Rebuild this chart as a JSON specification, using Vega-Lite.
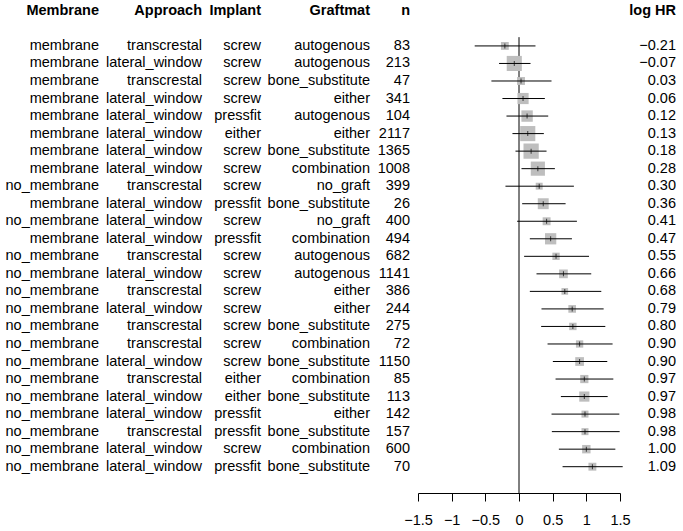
{
  "$schema": "https://vega.github.io/schema/vega-lite/v6.json",
  "padding": 0,
  "spacing": 0,
  "bounds": "flush",
  "background": "white",
  "config": {
    "view": {"stroke": null},
    "font": "Liberation Sans",
    "text": {"fontSize": 14.5, "color": "black", "baseline": "middle"},
    "axis": {"grid": false, "domainColor": "black", "tickColor": "black", "labelColor": "black", "labelFontSize": 14.5, "labelFont": "Liberation Sans", "domainWidth": 1, "tickWidth": 1, "tickSize": 8, "labelPadding": 12, "labelFlush": false, "labelOverlap": false, "labelBound": false}
  },
  "datasets": {
    "rows": [
      {"row": 0, "Membrane": "membrane", "Approach": "transcrestal", "Implant": "screw", "Graftmat": "autogenous", "n": 83, "est": -0.21, "lo": -0.658, "hi": 0.245, "se": 0.230},
      {"row": 1, "Membrane": "membrane", "Approach": "lateral_window", "Implant": "screw", "Graftmat": "autogenous", "n": 213, "est": -0.07, "lo": -0.296, "hi": 0.171, "se": 0.119},
      {"row": 2, "Membrane": "membrane", "Approach": "transcrestal", "Implant": "screw", "Graftmat": "bone_substitute", "n": 47, "est": 0.03, "lo": -0.41, "hi": 0.483, "se": 0.228},
      {"row": 3, "Membrane": "membrane", "Approach": "lateral_window", "Implant": "screw", "Graftmat": "either", "n": 341, "est": 0.06, "lo": -0.246, "hi": 0.384, "se": 0.161},
      {"row": 4, "Membrane": "membrane", "Approach": "lateral_window", "Implant": "pressfit", "Graftmat": "autogenous", "n": 104, "est": 0.12, "lo": -0.186, "hi": 0.434, "se": 0.158},
      {"row": 5, "Membrane": "membrane", "Approach": "lateral_window", "Implant": "either", "Graftmat": "either", "n": 2117, "est": 0.13, "lo": -0.097, "hi": 0.369, "se": 0.119},
      {"row": 6, "Membrane": "membrane", "Approach": "lateral_window", "Implant": "screw", "Graftmat": "bone_substitute", "n": 1365, "est": 0.18, "lo": -0.052, "hi": 0.409, "se": 0.118},
      {"row": 7, "Membrane": "membrane", "Approach": "lateral_window", "Implant": "screw", "Graftmat": "combination", "n": 1008, "est": 0.28, "lo": 0.037, "hi": 0.533, "se": 0.127},
      {"row": 8, "Membrane": "no_membrane", "Approach": "transcrestal", "Implant": "screw", "Graftmat": "no_graft", "n": 399, "est": 0.30, "lo": -0.201, "hi": 0.815, "se": 0.259},
      {"row": 9, "Membrane": "membrane", "Approach": "lateral_window", "Implant": "pressfit", "Graftmat": "bone_substitute", "n": 26, "est": 0.36, "lo": 0.047, "hi": 0.692, "se": 0.165},
      {"row": 10, "Membrane": "no_membrane", "Approach": "lateral_window", "Implant": "screw", "Graftmat": "no_graft", "n": 400, "est": 0.41, "lo": -0.028, "hi": 0.86, "se": 0.227},
      {"row": 11, "Membrane": "membrane", "Approach": "lateral_window", "Implant": "pressfit", "Graftmat": "combination", "n": 494, "est": 0.47, "lo": 0.161, "hi": 0.786, "se": 0.160},
      {"row": 12, "Membrane": "no_membrane", "Approach": "transcrestal", "Implant": "screw", "Graftmat": "autogenous", "n": 682, "est": 0.55, "lo": 0.076, "hi": 1.04, "se": 0.246},
      {"row": 13, "Membrane": "no_membrane", "Approach": "lateral_window", "Implant": "screw", "Graftmat": "autogenous", "n": 1141, "est": 0.66, "lo": 0.26, "hi": 1.073, "se": 0.207},
      {"row": 14, "Membrane": "no_membrane", "Approach": "transcrestal", "Implant": "screw", "Graftmat": "either", "n": 386, "est": 0.68, "lo": 0.161, "hi": 1.222, "se": 0.271},
      {"row": 15, "Membrane": "no_membrane", "Approach": "lateral_window", "Implant": "screw", "Graftmat": "either", "n": 244, "est": 0.79, "lo": 0.334, "hi": 1.257, "se": 0.235},
      {"row": 16, "Membrane": "no_membrane", "Approach": "transcrestal", "Implant": "screw", "Graftmat": "bone_substitute", "n": 275, "est": 0.80, "lo": 0.329, "hi": 1.282, "se": 0.243},
      {"row": 17, "Membrane": "no_membrane", "Approach": "transcrestal", "Implant": "screw", "Graftmat": "combination", "n": 72, "est": 0.90, "lo": 0.424, "hi": 1.39, "se": 0.246},
      {"row": 18, "Membrane": "no_membrane", "Approach": "lateral_window", "Implant": "screw", "Graftmat": "bone_substitute", "n": 1150, "est": 0.90, "lo": 0.503, "hi": 1.311, "se": 0.206},
      {"row": 19, "Membrane": "no_membrane", "Approach": "transcrestal", "Implant": "either", "Graftmat": "combination", "n": 85, "est": 0.97, "lo": 0.543, "hi": 1.401, "se": 0.219},
      {"row": 20, "Membrane": "no_membrane", "Approach": "lateral_window", "Implant": "either", "Graftmat": "bone_substitute", "n": 113, "est": 0.97, "lo": 0.622, "hi": 1.317, "se": 0.177},
      {"row": 21, "Membrane": "no_membrane", "Approach": "lateral_window", "Implant": "pressfit", "Graftmat": "either", "n": 142, "est": 0.98, "lo": 0.483, "hi": 1.49, "se": 0.257},
      {"row": 22, "Membrane": "no_membrane", "Approach": "transcrestal", "Implant": "pressfit", "Graftmat": "bone_substitute", "n": 157, "est": 0.98, "lo": 0.488, "hi": 1.495, "se": 0.257},
      {"row": 23, "Membrane": "no_membrane", "Approach": "lateral_window", "Implant": "screw", "Graftmat": "combination", "n": 600, "est": 1.00, "lo": 0.592, "hi": 1.431, "se": 0.214},
      {"row": 24, "Membrane": "no_membrane", "Approach": "lateral_window", "Implant": "pressfit", "Graftmat": "bone_substitute", "n": 70, "est": 1.09, "lo": 0.647, "hi": 1.54, "se": 0.228}
    ]
  },
  "hconcat": [
    {
      "width": 99, "height": 493,
      "layer": [
        {"data": {"name": "rows"}, "mark": {"type": "text", "align": "right"},
         "encoding": {
           "x": {"datum": "Membrane", "type": "nominal", "bandPosition": 1, "scale": {"type": "band", "paddingInner": 0, "paddingOuter": 0}, "axis": null},
           "y": {"field": "row", "type": "quantitative", "scale": {"domain": [-2.62, 25.5], "reverse": true, "nice": false, "zero": false}, "axis": null},
           "text": {"field": "Membrane"}}},
        {"data": {"values": [{"h": "Membrane"}]}, "mark": {"type": "text", "align": "right", "fontWeight": "bold"},
         "encoding": {
           "x": {"datum": "Membrane", "type": "nominal", "bandPosition": 1, "scale": {"type": "band", "paddingInner": 0, "paddingOuter": 0}, "axis": null},
           "y": {"datum": -2, "type": "quantitative", "scale": {"domain": [-2.62, 25.5], "reverse": true, "nice": false, "zero": false}, "axis": null},
           "text": {"field": "h"}}}
      ]
    },
    {
      "width": 103, "height": 493,
      "layer": [
        {"data": {"name": "rows"}, "mark": {"type": "text", "align": "right"},
         "encoding": {
           "x": {"datum": "Approach", "type": "nominal", "bandPosition": 1, "scale": {"type": "band", "paddingInner": 0, "paddingOuter": 0}, "axis": null},
           "y": {"field": "row", "type": "quantitative", "scale": {"domain": [-2.62, 25.5], "reverse": true, "nice": false, "zero": false}, "axis": null},
           "text": {"field": "Approach"}}},
        {"data": {"values": [{"h": "Approach"}]}, "mark": {"type": "text", "align": "right", "fontWeight": "bold"},
         "encoding": {
           "x": {"datum": "Approach", "type": "nominal", "bandPosition": 1, "scale": {"type": "band", "paddingInner": 0, "paddingOuter": 0}, "axis": null},
           "y": {"datum": -2, "type": "quantitative", "scale": {"domain": [-2.62, 25.5], "reverse": true, "nice": false, "zero": false}, "axis": null},
           "text": {"field": "h"}}}
      ]
    },
    {
      "width": 59, "height": 493,
      "layer": [
        {"data": {"name": "rows"}, "mark": {"type": "text", "align": "right"},
         "encoding": {
           "x": {"datum": "Implant", "type": "nominal", "bandPosition": 1, "scale": {"type": "band", "paddingInner": 0, "paddingOuter": 0}, "axis": null},
           "y": {"field": "row", "type": "quantitative", "scale": {"domain": [-2.62, 25.5], "reverse": true, "nice": false, "zero": false}, "axis": null},
           "text": {"field": "Implant"}}},
        {"data": {"values": [{"h": "Implant"}]}, "mark": {"type": "text", "align": "right", "fontWeight": "bold"},
         "encoding": {
           "x": {"datum": "Implant", "type": "nominal", "bandPosition": 1, "scale": {"type": "band", "paddingInner": 0, "paddingOuter": 0}, "axis": null},
           "y": {"datum": -2, "type": "quantitative", "scale": {"domain": [-2.62, 25.5], "reverse": true, "nice": false, "zero": false}, "axis": null},
           "text": {"field": "h"}}}
      ]
    },
    {
      "width": 109, "height": 493,
      "layer": [
        {"data": {"name": "rows"}, "mark": {"type": "text", "align": "right"},
         "encoding": {
           "x": {"datum": "Graftmat", "type": "nominal", "bandPosition": 1, "scale": {"type": "band", "paddingInner": 0, "paddingOuter": 0}, "axis": null},
           "y": {"field": "row", "type": "quantitative", "scale": {"domain": [-2.62, 25.5], "reverse": true, "nice": false, "zero": false}, "axis": null},
           "text": {"field": "Graftmat"}}},
        {"data": {"values": [{"h": "Graftmat"}]}, "mark": {"type": "text", "align": "right", "fontWeight": "bold"},
         "encoding": {
           "x": {"datum": "Graftmat", "type": "nominal", "bandPosition": 1, "scale": {"type": "band", "paddingInner": 0, "paddingOuter": 0}, "axis": null},
           "y": {"datum": -2, "type": "quantitative", "scale": {"domain": [-2.62, 25.5], "reverse": true, "nice": false, "zero": false}, "axis": null},
           "text": {"field": "h"}}}
      ]
    },
    {
      "width": 48, "height": 493,
      "layer": [
        {"data": {"name": "rows"}, "mark": {"type": "text", "align": "right"},
         "encoding": {
           "x": {"datum": "n", "type": "nominal", "bandPosition": 0.8333, "scale": {"type": "band", "paddingInner": 0, "paddingOuter": 0}, "axis": null},
           "y": {"field": "row", "type": "quantitative", "scale": {"domain": [-2.62, 25.5], "reverse": true, "nice": false, "zero": false}, "axis": null},
           "text": {"field": "n", "type": "quantitative", "format": "d"}}},
        {"data": {"values": [{"h": "n"}]}, "mark": {"type": "text", "align": "right", "fontWeight": "bold"},
         "encoding": {
           "x": {"datum": "n", "type": "nominal", "bandPosition": 0.8333, "scale": {"type": "band", "paddingInner": 0, "paddingOuter": 0}, "axis": null},
           "y": {"datum": -2, "type": "quantitative", "scale": {"domain": [-2.62, 25.5], "reverse": true, "nice": false, "zero": false}, "axis": null},
           "text": {"field": "h"}}}
      ]
    },
    {
      "width": 202, "height": 493,
      "layer": [
        {"data": {"values": [{"z": 0}]}, "mark": {"type": "rule", "color": "black", "strokeWidth": 1},
         "encoding": {
           "x": {"field": "z", "type": "quantitative", "title": null, "scale": {"domain": [-1.5, 1.5], "nice": false, "zero": false},
                 "axis": {"orient": "bottom", "values": [-1.5, -1, -0.5, 0, 0.5, 1, 1.5], "format": "~g", "title": null, "labelOverlap": false, "labelSeparation": 0, "labelBound": false, "labelFlush": false}},
           "y": {"datum": -0.5, "type": "quantitative", "scale": {"domain": [-2.62, 25.5], "reverse": true, "nice": false, "zero": false}, "axis": null},
           "y2": {"datum": 25.5}}},
        {"data": {"name": "rows"}, "mark": {"type": "square", "color": "#BEBEBE", "filled": true, "opacity": 1},
         "encoding": {
           "x": {"field": "est", "type": "quantitative", "title": null,
                 "axis": {"orient": "bottom", "values": [-1.5, -1, -0.5, 0, 0.5, 1, 1.5], "format": "~g", "title": null, "labelOverlap": false, "labelSeparation": 0, "labelBound": false, "labelFlush": false}},
           "y": {"field": "row", "type": "quantitative", "axis": null},
           "size": {"field": "se", "type": "quantitative", "scale": {"type": "pow", "exponent": -2, "domain": [0.1, 0.3], "range": [324, 36], "zero": false, "nice": false}, "legend": null}}},
        {"data": {"name": "rows"}, "mark": {"type": "rule", "color": "black", "strokeWidth": 1},
         "encoding": {
           "x": {"field": "lo", "type": "quantitative", "title": null,
                 "axis": {"orient": "bottom", "values": [-1.5, -1, -0.5, 0, 0.5, 1, 1.5], "format": "~g", "title": null, "labelOverlap": false, "labelSeparation": 0, "labelBound": false, "labelFlush": false}},
           "x2": {"field": "hi"},
           "y": {"field": "row", "type": "quantitative", "axis": null}}},
        {"data": {"name": "rows"}, "mark": {"type": "tick", "orient": "vertical", "color": "black", "size": 5, "thickness": 1},
         "encoding": {
           "x": {"field": "est", "type": "quantitative", "title": null,
                 "axis": {"orient": "bottom", "values": [-1.5, -1, -0.5, 0, 0.5, 1, 1.5], "format": "~g", "title": null, "labelOverlap": false, "labelSeparation": 0, "labelBound": false, "labelFlush": false}},
           "y": {"field": "row", "type": "quantitative", "axis": null}}}
      ]
    },
    {
      "width": 56, "height": 493,
      "layer": [
        {"data": {"name": "rows"}, "mark": {"type": "text", "align": "right"},
         "encoding": {
           "x": {"datum": "log HR", "type": "nominal", "bandPosition": 1, "scale": {"type": "band", "paddingInner": 0, "paddingOuter": 0}, "axis": null},
           "y": {"field": "row", "type": "quantitative", "scale": {"domain": [-2.62, 25.5], "reverse": true, "nice": false, "zero": false}, "axis": null},
           "text": {"field": "est", "type": "quantitative", "format": ".2f"}}},
        {"data": {"values": [{"h": "log HR"}]}, "mark": {"type": "text", "align": "right", "fontWeight": "bold"},
         "encoding": {
           "x": {"datum": "log HR", "type": "nominal", "bandPosition": 1, "scale": {"type": "band", "paddingInner": 0, "paddingOuter": 0}, "axis": null},
           "y": {"datum": -2, "type": "quantitative", "scale": {"domain": [-2.62, 25.5], "reverse": true, "nice": false, "zero": false}, "axis": null},
           "text": {"field": "h"}}}
      ]
    }
  ]
}
